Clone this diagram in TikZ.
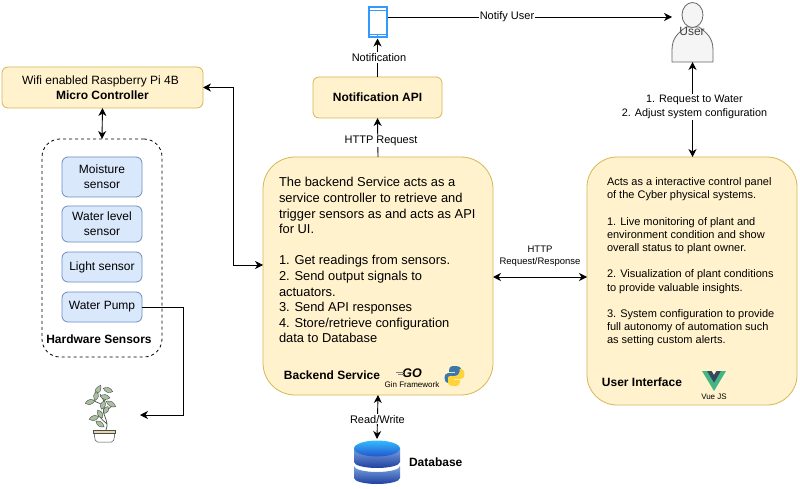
\documentclass[tikz,border=0pt]{standalone}
\usepackage{fontspec}
\setmainfont{Liberation Sans}
\usetikzlibrary{arrows.meta,calc}
\definecolor{yfill}{HTML}{FFF2CC}\definecolor{ydraw}{HTML}{D6B656}
\definecolor{bfill}{HTML}{DAE8FC}\definecolor{bdraw}{HTML}{6C8EBF}
\definecolor{phone}{HTML}{3399FF}\definecolor{leaf}{HTML}{A9BFA0}\definecolor{stem}{HTML}{4A4F4A}
\definecolor{pot}{HTML}{EBD3A8}\definecolor{pyb}{HTML}{3C78AA}\definecolor{pyy}{HTML}{FFD43B}
\definecolor{vueg}{HTML}{41B883}\definecolor{vued}{HTML}{35495E}
\definecolor{dbtop}{HTML}{33BBFF}\definecolor{dbmid}{HTML}{2255CC}\definecolor{dblo}{HTML}{7AA5E0}\definecolor{dbhi}{HTML}{1F3FA0}
\tikzset{
 x=1pt,y=-1pt,
 ybox/.style={draw=ydraw,fill=yfill,line width=0.8pt,rounded corners=6pt,inner sep=0pt,outer sep=0pt,align=center},
 sbox/.style={draw=bdraw,fill=bfill,line width=0.8pt,rounded corners=6pt,inner sep=0pt,outer sep=0pt,align=center,minimum width=80pt,font=\fontsize{12}{15}\selectfont},
 lbl/.style={fill=white,inner sep=1pt,align=center,font=\fontsize{11}{14}\selectfont},
 conn/.style={line width=0.9pt,-{Stealth[length=8pt,width=8pt,inset=2.5pt]}},
 bconn/.style={line width=0.9pt,{Stealth[length=8pt,width=8pt,inset=2.5pt]}-{Stealth[length=8pt,width=8pt,inset=2.5pt]}},
 txt/.style={inner sep=0pt,outer sep=0pt},
}
\begin{document}
\begin{tikzpicture}
\useasboundingbox (0,0) rectangle (800,489);
% dashed container
\node[draw,dashed,rounded corners=18pt,line width=0.8pt,minimum width=120pt,minimum height=218pt,inner sep=0pt,outer sep=0pt] (hw) at (102,248) {};
\node[ybox,minimum width=201pt,minimum height=41pt,font=\fontsize{12}{15.5}\selectfont] (mc) at (102.5,87.5) {\hspace*{-4pt}Wifi enabled Raspberry Pi 4B\\\textbf{Micro Controller}};
\node[sbox,minimum height=40pt] (moist) at (102,177) {Moisture\\sensor};
\node[sbox,minimum height=36pt] (wl) at (102,224) {Water level\\sensor};
\node[sbox,minimum height=30pt] (light) at (102,267) {Light sensor};
\node[sbox,minimum height=30pt] (pump) at (102,307) {Water Pump};
\node[txt,font=\fontsize{12}{14}\bfseries\selectfont] (hwl) at (99,339) {Hardware Sensors};
\node[ybox,minimum width=129pt,minimum height=41pt,font=\fontsize{12}{15}\bfseries\selectfont] (api) at (377.5,97.5) {Notification API};
\node[ybox,rounded corners=32pt,minimum width=230pt,minimum height=238pt] (be) at (378,276) {};
\node[ybox,rounded corners=30pt,minimum width=210pt,minimum height=248pt] (ui) at (692,281) {};
\node[txt,anchor=north west,align=left,font=\fontsize{12.9}{15.6}\selectfont] (betext) at (279,177.5) {The backend Service acts as a\\service controller to retrieve and\\trigger sensors as and acts as API\\for UI.\\[15.6pt]1. Get readings from sensors.\\2. Send output signals to\\actuators.\\3. Send API responses\\4. Store/retrieve configuration\\data to Database};
\node[txt,font=\fontsize{12}{14}\bfseries\selectfont] (bel) at (332,375) {Backend Service};
\node[txt,font=\fontsize{8}{9}\selectfont] (gin) at (412,385) {Gin Framework};
\node[txt,font=\fontsize{12.5}{12}\bfseries\itshape\selectfont] (go) at (412,373.5) {GO};
\node[txt,anchor=north west,align=left,font=\fontsize{11}{13}\selectfont] (uitext) at (607,177.5) {Acts as a interactive control panel\\of the Cyber physical systems.\\[14pt]1. Live monitoring of plant and\\environment condition and show\\overall status to plant owner.\\[13pt]2. Visualization of plant conditions\\[1pt]to provide valuable insights.\\[13pt]3. System configuration to provide\\full autonomy of automation such\\as setting custom alerts.};
\node[txt,font=\fontsize{12}{14}\bfseries\selectfont] (uil) at (642,382) {User Interface};
\node[txt,font=\fontsize{8}{9}\selectfont] (vuel) at (714,397) {Vue JS};
\node[txt,font=\fontsize{12}{14}\bfseries\selectfont,anchor=west] (dbl) at (409,462) {Database};
% phone
\node[draw=phone,line width=2pt,inner sep=0pt,outer sep=1pt,minimum width=18pt,minimum height=30pt] (ph) at (377.5,22.5) {};
\draw[phone,line width=0.8pt] (ph.north west)++(0,3.5) -- ++(18,0) (ph.south west)++(0,-4) -- ++(18,0) (ph.south)++(0,-4) -- ++(0,4);
% user
\coordinate (ub) at (692.5,62);
\draw[draw=black!60,fill=black!4,line width=0.8pt] (672,62) -- (672,50) .. controls (672,38) and (678,33) .. (686,27) -- (699,27) .. controls (707,33) and (713,38) .. (713,50) -- (713,62) -- cycle;
\draw[draw=black!60,fill=black!4,line width=0.8pt] (692.5,15) ellipse (10.5pt and 12.5pt);
\node[txt,text=black!75,font=\fontsize{12}{14}\selectfont] (usr) at (692,31) {User};
\coordinate (ul) at (672,17);
% plant
\coordinate (pl) at (140,415);
\draw[stem,line width=0.5pt,fill=white,rounded corners=2pt] (94,433) -- (95.5,442) -- (113.5,442) -- (115,433) -- cycle;
\draw[stem,line width=0.5pt,fill=pot] (93,430) rectangle (115.5,433.5);
\draw[stem,line width=0.7pt] (106,430) .. controls (110,420) and (101,415) .. (104,408) .. controls (106,403) and (103,399) .. (100,394)
 (107,424) .. controls (104,421) and (102,420) .. (100,417) (104,412) .. controls (107,409) and (110,409) .. (112,406) (101,404) .. controls (97,402) and (95,402) .. (93,400) (103,403) -- (108,396);
\foreach \a/\b/\r/\l in {98/390/60/11,108/390/-20/10,105/397/-10/10,90/402/15/10,96/396/80/9,103/405/70/9,111/404/-30/11,106/410/60/8,100/414/-60/9,94/418/15/10,100/424/-35/10}{
  \fill[leaf,draw=stem,line width=0.4pt,rotate around={\r:(\a,\b)}] (\a-\l/2,\b) .. controls (\a-\l/6,\b-3.2) and (\a+\l/6,\b-3.2) .. (\a+\l/2,\b) .. controls (\a+\l/6,\b+3.2) and (\a-\l/6,\b+3.2) .. (\a-\l/2,\b) -- cycle;
}
% go lines
\draw[gray,line width=0.6pt] (396,372) -- (404,372) (398,374.5) -- (404,374.5);
% python logo
\fill[pyb] (454,366) .. controls (450,366) and (449,368) .. (449,370) -- (449,372) -- (455,372) -- (455,373) -- (448,373) .. controls (445,373) and (444.5,376) .. (444.5,378) .. controls (444.5,381) and (446,383) .. (448,383) -- (450,383) -- (450,380) .. controls (450,378) and (452,376.5) .. (454,376.5) -- (459,376.5) .. controls (460.5,376.5) and (461,375) .. (461,374) -- (461,369) .. controls (461,367) and (458,366) .. (454,366) -- cycle;
\fill[pyy] (455,386) .. controls (459,386) and (460,384) .. (460,382) -- (460,380) -- (454,380) -- (454,379) -- (461,379) .. controls (464,379) and (464.5,376) .. (464.5,374) .. controls (464.5,371) and (463,369) .. (461.5,369) -- (459.5,369) -- (459.5,372) .. controls (459.5,374.5) and (457,376) .. (455,376) -- (450,376) .. controls (449,376) and (448,377) .. (448,378) -- (448,383) .. controls (448,385) and (451,386) .. (455,386) -- cycle;
% vue logo
\fill[vueg] (702,371) -- (714,391) -- (726,371) -- (721,371) -- (714,383) -- (707,371) -- cycle;
\fill[vued] (707,371) -- (714,383) -- (721,371) -- (716.5,371) -- (714,375) -- (711.5,371) -- cycle;
% database
\coordinate (dbt) at (377,439);
\shade[top color=dblo,bottom color=dbhi] (354,466) arc[start angle=180,end angle=360,x radius=23,y radius=-6] -- (400,478) arc[start angle=0,end angle=-180,x radius=23,y radius=-6] -- cycle;
\shade[top color=dblo,bottom color=dbhi] (354,448) -- (400,448) -- (400,462) arc[start angle=0,end angle=-180,x radius=23,y radius=-6] -- cycle;
\shade[top color=dbtop,bottom color=dbmid] (377,448.5) ellipse (23pt and 8pt);
% connectors
\draw[bconn] (mc.south) -- (hw.north);
\draw[bconn] (mc.east) -- ++(30,0) |- (be.west |- 0,265);
\draw[conn] (pump.east) -- (183,307) |- (pl);
\draw[conn] (be.north) -- (api.south);
\node[lbl] (httpl) at (381,141) {HTTP Request};
\draw[conn] (api.north) -- (ph.south);
\node[lbl] (notl) at (379,57.5) {Notification};
\draw[conn] (ph.east |- ul) -- node[lbl,pos=0.42]{Notify User} (ul);
\draw[bconn] (ub) -- (ub |- ui.north);
\node[lbl,font=\fontsize{10.8}{13.5}\selectfont] (reql) at (694.5,107) {1. Request to Water\\2. Adjust system configuration};
\draw[bconn] (be.east |- 0,277) -- (ui.west |- 0,277);
\node[txt,align=center,font=\fontsize{9.5}{12}\selectfont] (http) at (540,256) {HTTP\\Request/Response};
\draw[bconn] (be.south) -- node[lbl,pos=0.55]{Read/Write} (dbt);
\end{tikzpicture}
\end{document}
